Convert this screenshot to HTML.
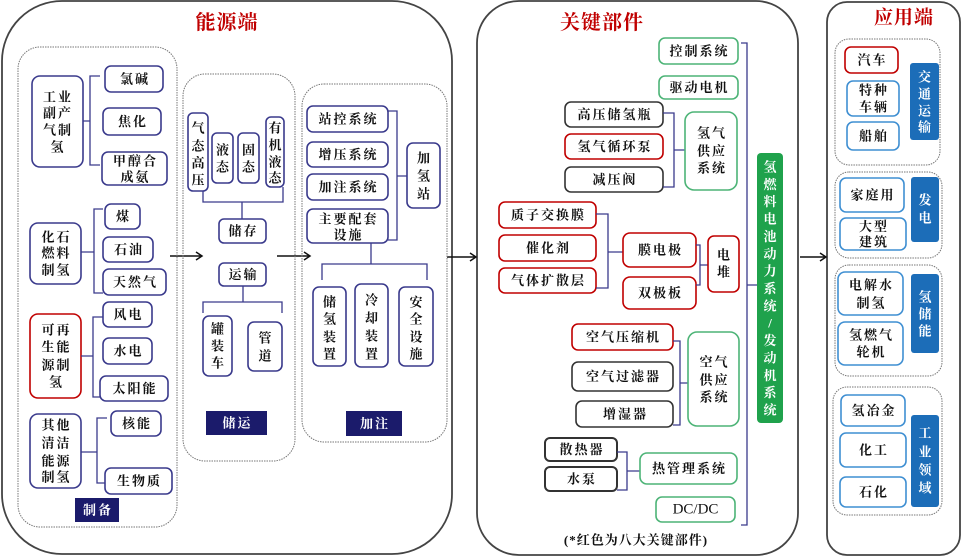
<!DOCTYPE html>
<html><head><meta charset="utf-8">
<style>
html,body{margin:0;padding:0;background:#fff;}
svg{display:block;}
text{font-family:"Liberation Serif","Noto Serif CJK SC",serif;font-weight:bold;font-size:13px;fill:#111;text-anchor:middle;dominant-baseline:central;letter-spacing:2px;}
.t{font-size:20px;fill:#c00000;letter-spacing:1px;}
.w{fill:#fff;font-size:13px;}
.n{fill:#fff;stroke:#3a3a8c;stroke-width:1.6}
.r{fill:#fff;stroke:#c00000;stroke-width:1.6}
.k{fill:#fff;stroke:#333;stroke-width:1.6}
.g{fill:#fff;stroke:#4db477;stroke-width:1.6}
.b{fill:#fff;stroke:#3f8fd2;stroke-width:1.6}
.d{fill:none;stroke:#777;stroke-width:1;stroke-dasharray:1.5 1}
.o{fill:none;stroke:#444;stroke-width:1.8}
.br{fill:none;stroke:#3a3a8c;stroke-width:1.3}
.ar{fill:none;stroke:#111;stroke-width:1.5}
</style></head>
<body>
<svg width="961" height="557" viewBox="0 0 961 557" xmlns="http://www.w3.org/2000/svg">
<!-- outer boxes -->
<rect class="o" x="2" y="1" width="450" height="553" rx="60"/>
<rect class="o" x="477" y="1" width="321" height="554" rx="42"/>
<rect class="o" x="827" y="2" width="133" height="553" rx="20"/>
<text class="t" x="227" y="23">能源端</text>
<text class="t" x="602" y="23">关键部件</text>
<text class="t" x="904" y="18" style="font-size:19px">应用端</text>

<!-- arrows -->
<path class="ar" d="M170,256 H202 M196,252 L202,256 L196,260"/>
<path class="ar" d="M277,256 H310 M304,252 L310,256 L304,260"/>
<path class="ar" d="M447,257 H476 M470,253 L476,257 L470,261"/>
<path class="ar" d="M800,257 H826 M820,253 L826,257 L820,261"/>

<!-- 制备 -->
<rect class="d" x="18" y="47" width="159" height="480" rx="22"/>
<rect class="n" x="32" y="76" width="51" height="91" rx="8"/>
<text x="58" y="97">工业</text><text x="58" y="113">副产</text><text x="58" y="130">气制</text><text x="58" y="147">氢</text>
<path class="br" d="M83,121 H90 M100,76 H90 V165 H100"/>
<rect class="n" x="105" y="66" width="58" height="26" rx="6"/><text x="135" y="79">氯碱</text>
<rect class="n" x="103" y="108" width="58" height="27" rx="6"/><text x="133" y="121.5">焦化</text>
<rect class="n" x="102" y="152" width="65" height="33" rx="6"/><text x="135.5" y="161">甲醇合</text><text x="135.5" y="177">成氨</text>

<rect class="n" x="30" y="223" width="51" height="61" rx="8"/>
<text x="56.5" y="237">化石</text><text x="56.5" y="253">燃料</text><text x="56.5" y="270">制氢</text>
<path class="br" d="M81,252 H94 M103,209 H94 V293 H103"/>
<rect class="n" x="105" y="204" width="35" height="25" rx="6"/><text x="123.5" y="216.5">煤</text>
<rect class="n" x="103" y="237" width="50" height="25" rx="6"/><text x="129" y="249.5">石油</text>
<rect class="n" x="103" y="269" width="63" height="26" rx="6"/><text x="135.5" y="282">天然气</text>

<rect class="r" x="30" y="314" width="51" height="84" rx="8"/>
<text x="56.5" y="330">可再</text><text x="56.5" y="347">生能</text><text x="56.5" y="365">源制</text><text x="56.5" y="382">氢</text>
<path class="br" d="M81,356 H93 M103,317 H93 V397 H103"/>
<rect class="n" x="103" y="302" width="49" height="25" rx="6"/><text x="128.5" y="314.5">风电</text>
<rect class="n" x="103" y="338" width="49" height="26" rx="6"/><text x="128.5" y="351">水电</text>
<rect class="n" x="100" y="376" width="68" height="25" rx="6"/><text x="135" y="388.5">太阳能</text>

<rect class="n" x="30" y="414" width="51" height="74" rx="8"/>
<text x="56.5" y="425">其他</text><text x="56.5" y="443">清洁</text><text x="56.5" y="461">能源</text><text x="56.5" y="477">制氢</text>
<path class="br" d="M81,452 H97 M107,418 H97 V483 H107"/>
<rect class="n" x="111" y="411" width="50" height="25" rx="6"/><text x="137" y="423.5">核能</text>
<rect class="n" x="105" y="468" width="67" height="26" rx="6"/><text x="139.5" y="481">生物质</text>
<rect x="75" y="498" width="44" height="24" fill="#1b1b6b"/><text class="w" x="98" y="510">制备</text>

<!-- 储运 -->
<rect class="d" x="183" y="74" width="112" height="387" rx="22"/>
<rect class="n" x="188" y="113" width="20" height="78" rx="5"/>
<text x="199" y="128">气</text><text x="199" y="146">态</text><text x="199" y="163">高</text><text x="199" y="180">压</text>
<rect class="n" x="212" y="133" width="21" height="50" rx="5"/>
<text x="223.5" y="150">液</text><text x="223.5" y="167">态</text>
<rect class="n" x="238" y="133" width="21" height="50" rx="5"/>
<text x="249.5" y="150">固</text><text x="249.5" y="167">态</text>
<rect class="n" x="266" y="117" width="18" height="70" rx="5"/>
<text x="276" y="128">有</text><text x="276" y="145">机</text><text x="276" y="162">液</text><text x="276" y="178">态</text>
<path class="br" d="M203,191 V202 H283 V187 M242,202 V219"/>
<rect class="n" x="219" y="219" width="47" height="24" rx="5"/><text x="243.5" y="231">储存</text>
<rect class="n" x="219" y="263" width="47" height="23" rx="5"/><text x="243.5" y="274.5">运输</text>
<path class="br" d="M243,286 V302 M203,313 V302 H282 V313"/>
<rect class="n" x="203" y="316" width="29" height="60" rx="6"/>
<text x="218.5" y="329">罐</text><text x="218.5" y="346">装</text><text x="218.5" y="363">车</text>
<rect class="n" x="248" y="322" width="34" height="49" rx="6"/>
<text x="266" y="338">管</text><text x="266" y="356">道</text>
<rect x="206" y="411" width="61" height="24" fill="#1b1b6b"/><text class="w" x="237.5" y="423">储运</text>

<!-- 加注 -->
<rect class="d" x="302" y="84" width="145" height="358" rx="22"/>
<rect class="n" x="307" y="106" width="81" height="26" rx="6"/><text x="348.5" y="119">站控系统</text>
<rect class="n" x="307" y="142" width="81" height="25" rx="6"/><text x="348.5" y="154.5">增压系统</text>
<rect class="n" x="307" y="174" width="81" height="26" rx="6"/><text x="348.5" y="187">加注系统</text>
<rect class="n" x="307" y="209" width="81" height="34" rx="6"/><text x="348.5" y="219">主要配套</text><text x="348.5" y="235">设施</text>
<path class="br" d="M388,111 H397 V240 H388 M397,176 H407"/>
<rect class="n" x="407" y="143" width="33" height="65" rx="6"/>
<text x="424.5" y="158">加</text><text x="424.5" y="176">氢</text><text x="424.5" y="194">站</text>
<path class="br" d="M371,243 V264 M322,280 V264 H427 V280"/>
<rect class="n" x="313" y="287" width="33" height="79" rx="6"/>
<text x="330.5" y="302">储</text><text x="330.5" y="319">氢</text><text x="330.5" y="337">装</text><text x="330.5" y="354">置</text>
<rect class="n" x="355" y="284" width="33" height="83" rx="6"/>
<text x="372.5" y="300">冷</text><text x="372.5" y="318">却</text><text x="372.5" y="336">装</text><text x="372.5" y="354">置</text>
<rect class="n" x="399" y="287" width="34" height="79" rx="6"/>
<text x="417" y="302">安</text><text x="417" y="319">全</text><text x="417" y="337">设</text><text x="417" y="354">施</text>
<rect x="346" y="411" width="56" height="25" fill="#1b1b6b"/><text class="w" x="375" y="423.5">加注</text>

<!-- 关键部件 -->
<rect class="g" x="659" y="38" width="79" height="26" rx="6"/><text x="699.5" y="51">控制系统</text>
<rect class="g" x="659" y="76" width="79" height="23" rx="6"/><text x="699.5" y="87.5">驱动电机</text>
<rect class="k" x="565" y="102" width="98" height="25" rx="6"/><text x="615" y="114.5">高压储氢瓶</text>
<rect class="r" x="565" y="134" width="98" height="25" rx="6"/><text x="615" y="146.5">氢气循环泵</text>
<rect class="k" x="565" y="167" width="98" height="25" rx="6"/><text x="615" y="179.5">减压阀</text>
<path class="br" d="M663,113 H674 V187 H663 M674,150 H685"/>
<rect class="g" x="685" y="112" width="52" height="78" rx="9"/>
<text x="712" y="133">氢气</text><text x="712" y="151">供应</text><text x="712" y="168">系统</text>
<path class="br" d="M741,43 H747 V525 H741 M747,285 H757"/>
<rect x="757" y="153" width="26" height="270" rx="4" fill="#1fa24c"/>
<g>
<text class="w" x="771" y="167">氢</text><text class="w" x="771" y="184.4">燃</text><text class="w" x="771" y="201.7">料</text><text class="w" x="771" y="219.1">电</text><text class="w" x="771" y="236.4">池</text><text class="w" x="771" y="253.8">动</text><text class="w" x="771" y="271.2">力</text><text class="w" x="771" y="288.5">系</text><text class="w" x="771" y="305.9">统</text><text class="w" x="771" y="323.2">/</text><text class="w" x="771" y="340.6">发</text><text class="w" x="771" y="357.9">动</text><text class="w" x="771" y="375.3">机</text><text class="w" x="771" y="392.6">系</text><text class="w" x="771" y="410">统</text>
</g>
<rect class="r" x="499" y="202" width="97" height="26" rx="6"/><text x="548.5" y="215">质子交换膜</text>
<rect class="r" x="499" y="235" width="97" height="26" rx="6"/><text x="548.5" y="248">催化剂</text>
<rect class="r" x="499" y="268" width="97" height="25" rx="6"/><text x="548.5" y="280.5">气体扩散层</text>
<path class="br" d="M596,214 H608 V288 H596 M608,252 H623"/>
<rect class="r" x="623" y="233" width="73" height="34" rx="7"/><text x="660.5" y="250">膜电极</text>
<rect class="r" x="623" y="277" width="73" height="32" rx="7"/><text x="660.5" y="293">双极板</text>
<path class="br" d="M696,245 H700 V285 H696 M700,265 H708"/>
<rect class="r" x="708" y="236" width="31" height="56" rx="6"/>
<text x="724.5" y="255">电</text><text x="724.5" y="272">堆</text>
<rect class="r" x="572" y="324" width="101" height="26" rx="6"/><text x="623.5" y="337">空气压缩机</text>
<rect class="k" x="572" y="362" width="101" height="29" rx="6"/><text x="623.5" y="376.5">空气过滤器</text>
<rect class="k" x="576" y="401" width="97" height="26" rx="6"/><text x="625.5" y="414">增湿器</text>
<path class="br" d="M673,341 H680 V425 H673 M680,383 H688"/>
<rect class="g" x="688" y="332" width="51" height="94" rx="9"/>
<text x="714.5" y="362">空气</text><text x="714.5" y="380">供应</text><text x="714.5" y="397">系统</text>
<rect class="k" x="545" y="438" width="72" height="23" rx="5" style="stroke-width:2"/><text x="582" y="449.5">散热器</text>
<rect class="k" x="545" y="467" width="72" height="24" rx="5" style="stroke-width:2"/><text x="582" y="479">水泵</text>
<path class="br" d="M617,452 H627 V490 H617 M627,471 H640"/>
<rect class="g" x="640" y="453" width="97" height="31" rx="7"/><text x="689.5" y="468.5">热管理系统</text>
<rect class="g" x="656" y="497" width="79" height="25" rx="6"/><text x="695.5" y="509.5" style="font-size:15px;font-weight:normal;letter-spacing:0">DC/DC</text>
<text x="636" y="540" style="font-size:13px;letter-spacing:1px">(*红色为八大关键部件)</text>

<!-- 应用端 -->
<rect class="d" x="835" y="39" width="105" height="126" rx="14"/>
<rect class="r" x="845" y="47" width="53" height="26" rx="6"/><text x="872.5" y="60">汽车</text>
<rect class="b" x="847" y="81" width="52" height="35" rx="6"/><text x="874" y="90">特种</text><text x="874" y="107">车辆</text>
<rect class="b" x="847" y="122" width="52" height="28" rx="6"/><text x="874" y="136">船舶</text>
<rect x="910" y="63" width="29" height="77" rx="3" fill="#1c6db8"/>
<text class="w" x="925.5" y="77">交</text><text class="w" x="925.5" y="94">通</text><text class="w" x="925.5" y="111">运</text><text class="w" x="925.5" y="127">输</text>

<rect class="d" x="835" y="172" width="107" height="86" rx="14"/>
<rect class="b" x="840" y="178" width="64" height="34" rx="6"/><text x="873" y="195">家庭用</text>
<rect class="b" x="840" y="218" width="66" height="32" rx="6"/><text x="874" y="226.5">大型</text><text x="874" y="242">建筑</text>
<rect x="911" y="177" width="28" height="65" rx="3" fill="#1c6db8"/>
<text class="w" x="926" y="200">发</text><text class="w" x="926" y="218">电</text>

<rect class="d" x="835" y="265" width="107" height="111" rx="14"/>
<rect class="b" x="838" y="272" width="65" height="43" rx="7"/><text x="871.5" y="285">电解水</text><text x="871.5" y="303">制氢</text>
<rect class="b" x="838" y="322" width="65" height="43" rx="7"/><text x="871.5" y="335">氢燃气</text><text x="871.5" y="352">轮机</text>
<rect x="911" y="274" width="28" height="79" rx="3" fill="#1c6db8"/>
<text class="w" x="926" y="297">氢</text><text class="w" x="926" y="314">储</text><text class="w" x="926" y="331">能</text>

<rect class="d" x="833" y="387" width="109" height="128" rx="14"/>
<rect class="b" x="841" y="395" width="64" height="31" rx="6"/><text x="874" y="410.5">氢冶金</text>
<rect class="b" x="840" y="433" width="66" height="34" rx="6"/><text x="874" y="450">化工</text>
<rect class="b" x="840" y="477" width="66" height="30" rx="6"/><text x="874" y="492">石化</text>
<rect x="911" y="415" width="28" height="92" rx="3" fill="#1c6db8"/>
<text class="w" x="926" y="433">工</text><text class="w" x="926" y="452">业</text><text class="w" x="926" y="470">领</text><text class="w" x="926" y="488">域</text>
</svg>
</body></html>
